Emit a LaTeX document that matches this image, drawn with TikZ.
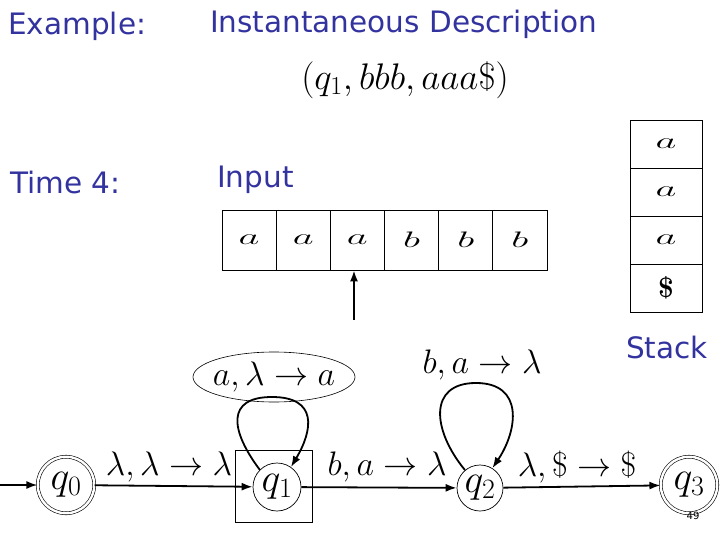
\documentclass[tikz,border=0pt]{standalone}
\usepackage{fix-cm}
\usepackage{fontspec}
\newfontfamily\slidefont{DejaVu Sans}
\usetikzlibrary{arrows.meta,positioning,shapes.geometric}
\definecolor{slideblue}{RGB}{51,51,160}
\newcommand\flatglyph[1]{\scalebox{1.45}[0.8]{$#1$}}
\tikzset{
	heading/.style={font=\slidefont\fontsize{29.5}{32}\selectfont,text=slideblue,anchor=base west,inner sep=0pt},
	tapecell/.style={draw,line width=0.8pt,minimum width=54.17pt,minimum height=60pt,inner sep=0pt,font=\fontsize{28}{30}\selectfont},
	stackcell/.style={draw,line width=0.8pt,minimum width=72pt,minimum height=48pt,inner sep=0pt,font=\fontsize{28}{30}\selectfont},
	state/.style={circle,draw,line width=0.7pt,minimum size=48pt,inner sep=0pt,font=\fontsize{40}{42}\selectfont},
	finalstate/.style={state,double,double distance=2.4pt,line width=0.6pt,minimum size=56.5pt},
	trans/.style={font=\fontsize{34}{36}\selectfont,inner sep=0pt},
	edge/.style={->,line width=1.8pt}
}
\begin{document}
\begin{tikzpicture}[x=1pt,y=-1pt,>={Latex[length=11pt,width=8pt]}]
	\useasboundingbox (0,0) rectangle (720,540);
	% headings
	\node[heading] (example) at (8,35) {Example:};
	\node[heading] (title) at (210,33) {Instantaneous Description};
	\node[heading] (time) at (10,194) {Time 4:};
	\node[heading] (input) at (217,188) {Input};
	\node[heading] (stack) at (626,358) {Stack};
	\node[font=\fontsize{37}{40}\selectfont,inner sep=0pt] (config) at (405,80) {$(q_1,bbb,aaa\$)$};
	% input tape
	\foreach \s [count=\i] in {a,a,a,b,b,b}
		\node[tapecell] (in\i) at ({222+54.17*(\i-0.5)},240) {\flatglyph{\s}};
	\coordinate (pointer) at (354,320);
	\draw[edge] (pointer) -- (pointer |- in3.south);
	% stack
	\foreach \s [count=\i] in {a,a,a}
		\node[stackcell] (st\i) at (666,{120+48*(\i-0.5)}) {\flatglyph{\s}};
	\node[stackcell] (st4) at (666,288) {\textbf{\$}};
	% states
	\node[finalstate] (q0) at (66,485) {$q_0$};
	\node[state] (q1) at (277,487) {$q_1$};
	\node[draw,line width=0.8pt,minimum width=77pt,minimum height=72pt] (q1box) at (273.5,486) {};
	\node[state,minimum size=46pt] (q2) at (480,488) {$q_2$};
	\node[finalstate] (q3) at (689,485) {$q_3$};
	\coordinate (start) at (0,485);
	% transitions
	\draw[edge] (start) -- (q0);
	\draw[edge] (q0) -- (q1);
	\draw[edge] (q1) -- (q2);
	\draw[edge] (q2) -- (q3);
	\draw[edge] (q1.135) .. controls (230,430) and (226,397) .. (272,397) .. controls (318,397) and (313,430) .. (q1.55);
	\draw[edge] (q2.130) .. controls (432,430) and (428,383) .. (476,383) .. controls (524,383) and (518,430) .. (q2.58);
	\node[trans] (l01) at (169,467) {$\lambda,\lambda\to\lambda$};
	\node[trans] (l12) at (387,467) {$b,a\to\lambda$};
	\node[trans] (l23) at (577,467) {$\lambda,\$\to\$$};
	\node[trans] (l22) at (482,365) {$b,a\to\lambda$};
	\node[trans,draw,ellipse,line width=0.6pt,minimum width=162pt,minimum height=50pt,inner sep=-6pt] (l11) at (274,377) {$a,\lambda\to a$};
	\node[font=\slidefont\fontsize{10}{11}\selectfont,inner sep=0pt] (page) at (693,516) {49};
\end{tikzpicture}
\end{document}
